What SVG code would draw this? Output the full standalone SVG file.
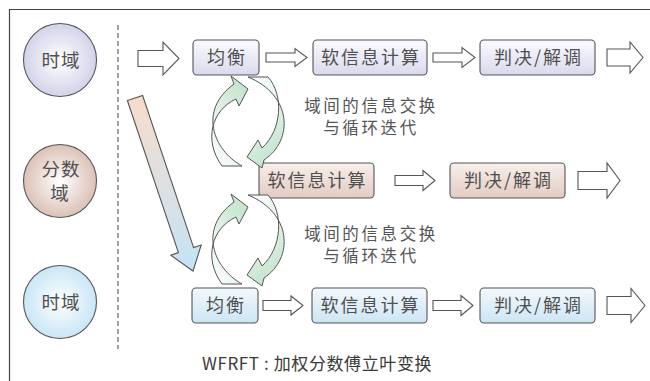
<svg xmlns="http://www.w3.org/2000/svg" width="650" height="381" viewBox="0 0 650 381">
<style>
.t{font-family:"Noto Sans CJK SC","Liberation Sans",sans-serif;fill:#505050;text-anchor:middle}
.bx{font-size:18px;letter-spacing:2px}
.ci{font-size:18.5px;letter-spacing:1px}
.note{font-size:16.5px;letter-spacing:2.6px;fill:#555}
.ha{fill:#fff;stroke:#555;stroke-width:1.1;stroke-linejoin:miter}
.b1{fill:url(#gL);stroke:#555;stroke-width:1.1}
.b2{fill:url(#gP);stroke:#555;stroke-width:1.1}
.b3{fill:url(#gB);stroke:#555;stroke-width:1.1}
.cy{stroke:#555;stroke-width:1}
</style>
<defs>
<linearGradient id="gL" x1="0" y1="0" x2="0" y2="1"><stop offset="0" stop-color="#fbfbfe"/><stop offset="1" stop-color="#d9d9ee"/></linearGradient>
<linearGradient id="gP" x1="0" y1="0" x2="0" y2="1"><stop offset="0" stop-color="#f8efeb"/><stop offset="1" stop-color="#e2cbc2"/></linearGradient>
<linearGradient id="gB" x1="0" y1="0" x2="0" y2="1"><stop offset="0" stop-color="#f3f9fd"/><stop offset="1" stop-color="#cde5f4"/></linearGradient>
<radialGradient id="rL" cx="0.5" cy="0.5" r="0.5"><stop offset="0" stop-color="#ffffff"/><stop offset="1" stop-color="#d3d3ea"/></radialGradient>
<radialGradient id="rP" cx="0.5" cy="0.5" r="0.5"><stop offset="0" stop-color="#ffffff"/><stop offset="1" stop-color="#dcc1b6"/></radialGradient>
<radialGradient id="rB" cx="0.5" cy="0.5" r="0.5"><stop offset="0" stop-color="#ffffff"/><stop offset="1" stop-color="#c9e6f6"/></radialGradient>
<linearGradient id="gDiag" x1="0" y1="0" x2="0" y2="1"><stop offset="0" stop-color="#f8dccd"/><stop offset="1" stop-color="#c3e4f6"/></linearGradient>
<linearGradient id="gUp" x1="0" y1="1" x2="0.6" y2="0"><stop offset="0" stop-color="#ffffff"/><stop offset="1" stop-color="#c6e5cf"/></linearGradient>
<linearGradient id="gDn" x1="0" y1="0" x2="0.3" y2="1"><stop offset="0" stop-color="#ffffff"/><stop offset="1" stop-color="#c6e5cf"/></linearGradient>
</defs>
<rect width="650" height="381" fill="#fff"/>
<g id="frame" fill="none" stroke="#444" stroke-width="1.2">
<path d="M9.5,381 V9.5 H650"/>
<path d="M118,25 V349" stroke="#777" stroke-width="1.4" stroke-dasharray="5,3"/>
</g>
<g id="c-time-top"><circle cx="60" cy="60" r="36.5" fill="url(#rL)" stroke="#555" stroke-width="1.1"/><text class="t ci" x="61" y="66.5">时域</text></g>
<g id="c-frac"><circle cx="60" cy="181" r="36.5" fill="url(#rP)" stroke="#555" stroke-width="1.1"/><text class="t ci" x="61" y="175.5">分数</text><text class="t ci" x="60" y="200">域</text></g>
<g id="c-time-bot"><circle cx="60" cy="302" r="36.5" fill="url(#rB)" stroke="#555" stroke-width="1.1"/><text class="t ci" x="61" y="308.5">时域</text></g>
<g id="n-eq1"><rect class="b1" x="193" y="40" width="66" height="35" rx="4"/><text class="t bx" x="227" y="64.3">均衡</text></g>
<g id="n-soft1"><rect class="b1" x="313" y="40" width="114" height="35" rx="4"/><text class="t bx" x="371" y="64.3">软信息计算</text></g>
<g id="n-dec1"><rect class="b1" x="480" y="40" width="115" height="35" rx="4"/><text class="t bx" x="538.5" y="64.3">判决/解调</text></g>
<g id="n-soft2"><rect class="b2" x="259" y="163" width="115" height="35" rx="4"/><text class="t bx" x="317.5" y="187.3">软信息计算</text></g>
<g id="n-dec2"><rect class="b2" x="450" y="163" width="115" height="35" rx="4"/><text class="t bx" x="508.5" y="187.3">判决/解调</text></g>
<g id="n-eq3"><rect class="b3" x="192" y="288" width="66" height="35" rx="4"/><text class="t bx" x="226" y="312.3">均衡</text></g>
<g id="n-soft3"><rect class="b3" x="312" y="288" width="115" height="35" rx="4"/><text class="t bx" x="370.5" y="312.3">软信息计算</text></g>
<g id="n-dec3"><rect class="b3" x="480" y="288" width="115" height="35" rx="4"/><text class="t bx" x="538.5" y="312.3">判决/解调</text></g>
<g id="connectors">
<path class="ha" d="M138,50.5 H163 V42 L179,58.5 L163,75 V66.5 H138 Z"/>
<path class="ha" d="M266,53 H295 V48.5 L307,57.5 L295,66.5 V62 H266 Z"/>
<path class="ha" d="M433,53 H462 V47.5 L475,57.5 L462,67.5 V62 H433 Z"/>
<path class="ha" d="M607,49 H630 V42 L643,57.5 L630,73 V66 H607 Z"/>
<path class="ha" d="M395,175.5 H423 V170.5 L435,180.5 L423,190.5 V185.5 H395 Z"/>
<path class="ha" d="M578,171.5 H607 V163 L620,180.5 L607,198 V189.5 H578 Z"/>
<path class="ha" d="M263,300.5 H291 V296 L303,305.5 L291,315 V310.5 H263 Z"/>
<path class="ha" d="M433,300.5 H461 V295.5 L473,305.5 L461,315.5 V310.5 H433 Z"/>
<path class="ha" d="M607,296.5 H631 V288.5 L645,305.5 L631,322.5 V314.5 H607 Z"/>
<path d="M142.6,95.5 L193.6,247.6 L201.2,245 L193,271 L170.8,255.2 L178.4,252.6 L127.4,100.5 Z" fill="url(#gDiag)" stroke="#555" stroke-width="1.1" stroke-linejoin="miter"/>
<g id="cycle1">
<path class="cy" fill="url(#gUp)" d="M242,166 C213,150 198,110 234,84 L231,76 L248,89 L239,106 L236,99 C212,110 203,140 222,166 Z"/>
<path class="cy" fill="url(#gDn)" d="M248,77 C292,95 294,140 264,160 L262,168 L247,157 L258,140 L262,148 C282,130 284,95 268,77 Z"/>
</g>
<g id="cycle2" transform="translate(0,118)">
<path class="cy" fill="url(#gUp)" d="M242,166 C213,150 198,110 234,84 L231,76 L248,89 L239,106 L236,99 C212,110 203,140 222,166 Z"/>
<path class="cy" fill="url(#gDn)" d="M248,77 C292,95 294,140 264,160 L262,168 L247,157 L258,140 L262,148 C282,130 284,95 268,77 Z"/>
</g>
</g>
<g id="labels">
<text class="t note" x="371" y="112">域间的信息交换</text>
<text class="t note" x="371" y="134">与循环迭代</text>
<text class="t note" x="371" y="240">域间的信息交换</text>
<text class="t note" x="371" y="262">与循环迭代</text>
<text class="t" x="317" y="370" style="font-size:17px;letter-spacing:0.6px;fill:#3a3a3a">WFRFT : 加权分数傅立叶变换</text>
</g>
</svg>
